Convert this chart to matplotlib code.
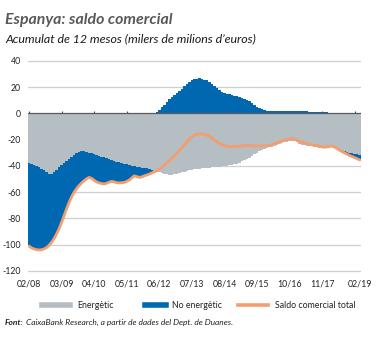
import matplotlib
matplotlib.use("Agg")
import matplotlib.pyplot as plt
from matplotlib.lines import Line2D
import numpy as np

# 12-month cumulative trade balance, monthly from Feb 2008 to Feb 2019 (EUR bn)
energy = [
    -37.5, -38.5, -39.5, -40.3, -41.0, -42.2, -43.5, -44.8, -46.0, -46.3,
    -45.0, -43.2, -41.0, -39.5, -38.0, -36.5, -35.0, -33.5, -31.8, -30.5,
    -29.6, -29.0, -28.7, -29.2, -30.0, -30.6, -31.2, -31.8, -32.5, -33.0,
    -33.6, -34.3, -35.0, -35.6, -36.2, -36.8, -37.3, -37.8, -38.3, -38.8,
    -39.3, -39.8, -40.3, -40.8, -41.2, -41.5, -41.8, -42.0, -42.4, -43.0,
    -43.6, -44.3, -45.0, -45.6, -46.0, -46.5, -47.0, -47.0, -46.5, -46.0,
    -45.5, -45.0, -44.5, -44.0, -43.5, -43.0, -42.7, -42.4, -42.2, -42.0,
    -41.8, -41.6, -41.4, -41.2, -41.0, -40.8, -40.5, -40.3, -40.1, -39.9,
    -39.6, -39.2, -38.8, -38.4, -37.6, -36.6, -35.6, -34.8, -33.8, -32.6,
    -31.2, -30.0, -28.8, -27.8, -27.0, -26.4, -25.9, -25.3, -24.6, -24.0,
    -23.2, -22.6, -22.0, -21.6, -21.2, -20.8, -21.2, -22.2, -23.2, -23.8,
    -24.2, -24.6, -24.8, -25.1, -25.4, -25.7, -26.1, -26.5, -26.6, -26.3,
    -25.8, -25.5, -26.0, -26.8, -27.6, -28.2, -28.8, -29.4, -30.0, -30.4,
    -30.8, -31.2, -31.5,
]
non_energy = [
    -63.5, -64.0, -63.7, -63.5, -63.0, -61.6, -59.7, -57.4, -54.4, -51.9,
    -50.3, -48.6, -46.8, -43.5, -39.7, -36.1, -32.7, -30.0, -28.2, -26.8,
    -25.4, -24.0, -22.6, -20.6, -18.8, -18.9, -19.8, -20.5, -20.5, -20.5,
    -20.2, -18.9, -17.4, -16.2, -16.0, -16.0, -15.7, -15.0, -14.3, -13.0,
    -11.5, -9.4, -7.3, -7.4, -7.6, -6.9, -5.8, -5.0, -3.9, -2.4,
    -1.0, 0.7, 2.5, 4.6, 6.5, 8.7, 10.8, 12.6, 14.1, 15.4,
    17.1, 18.8, 20.5, 22.4, 23.9, 25.2, 26.1, 26.4, 26.5, 26.1,
    25.6, 25.0, 24.0, 22.6, 20.8, 19.0, 17.5, 16.4, 15.5, 14.9,
    14.4, 13.9, 13.4, 13.1, 12.6, 11.8, 11.1, 10.4, 9.3, 8.0,
    6.4, 5.1, 3.9, 3.0, 2.3, 1.8, 1.5, 1.5, 1.6, 1.7,
    1.6, 1.6, 1.6, 1.6, 1.6, 1.6, 1.6, 1.6, 1.6, 1.6,
    1.5, 1.4, 1.2, 1.1, 1.0, 0.9, 0.9, 0.9, 0.8, 0.7,
    0.6, 0.5, 0.2, -0.2, -0.6, -1.0, -1.4, -1.8, -2.2, -2.6,
    -3.0, -3.4, -4.0,
]
x_labels = ["02/08", "03/09", "04/10", "05/11", "06/12", "07/13",
            "08/14", "09/15", "10/16", "11/17", "02/19"]
label_months = [0, 13, 26, 39, 52, 65, 78, 91, 104, 117, 132]
tick_months = [0, 13, 26, 39, 52, 65, 78, 91, 104, 117, 130]
y_ticks = [40, 20, 0, -20, -40, -60, -80, -100, -120]
legend_labels = ["Energètic", "No energètic", "Saldo comercial total"]

GRAY = "#b4bec3"
BLUE = "#0067b1"
ORANGE = "#f49d6e"
FONT = "Lato"

plt.rcParams["font.family"] = [FONT, "DejaVu Sans"]

W, H = 378, 338
fig = plt.figure(figsize=(W / 100, H / 100), dpi=100)
fig.patch.set_facecolor("white")


def fx(px):
    return px / W


def fy(py):
    return 1 - py / H


e = np.array(energy)
n = np.array(non_energy)
total = e + n
months = np.arange(len(e))

y_lo, y_hi = -122, 42
ax_top, ax_bot = 58.1, 273.6
ax_left, ax_right = 27.8, 361.0
ax = fig.add_axes([fx(ax_left), fy(ax_bot), fx(ax_right) - fx(ax_left),
                   (ax_bot - ax_top) / H])
ax.set_xlim(-0.5, len(e) - 0.5)
ax.set_ylim(y_lo, y_hi)

for v in y_ticks:
    if v != 0:
        ax.axhline(v, color="#cfcfcf", lw=0.9, zorder=0)

# monthly bars; plain pixel edges so adjacent bars merge into a solid area
ax.bar(months, e, width=1.0, color=GRAY, linewidth=0, antialiased=False,
       zorder=2)
n_bottom = np.where(n < 0, e, 0)
ax.bar(months, n, bottom=n_bottom, width=1.0, color=BLUE, linewidth=0,
       antialiased=False, zorder=2)

ax.axhline(0, color="#5a5a5a", lw=0.9, zorder=3)
ax.vlines(tick_months, 0, 2.0, color="#5a5a5a", lw=0.9, zorder=3)

ax.plot(months, total, color=ORANGE, lw=2.0, zorder=4,
        solid_capstyle="round", solid_joinstyle="round")

for s in ax.spines.values():
    s.set_visible(False)
ax.set_yticks(y_ticks)
ax.set_yticklabels([str(v) for v in y_ticks])
ax.set_xticks(label_months)
ax.set_xticklabels(x_labels)
ax.tick_params(axis="both", length=0, labelsize=6.3, colors="#222222")
ax.tick_params(axis="y", pad=5)
ax.tick_params(axis="x", pad=4.5)

# titles
fig.text(fx(5), fy(24), "Espanya: saldo comercial", fontsize=11.4,
         fontweight="bold", fontstyle="italic", color="#58595b", va="baseline")
fig.text(fx(5), fy(42), "Acumulat de 12 mesos (milers de milions d\u2019euros)",
         fontsize=8.9, fontstyle="italic", color="#1a1a1a", va="baseline")

# legend
leg_y = fy(305)
items = [
    (42, 70, 77, GRAY, 4.0),
    (145, 166, 172, BLUE, 4.0),
    (238, 268, 275, ORANGE, 2.6),
]
for (x0, x1, xt, col, lw), lab in zip(items, legend_labels):
    fig.add_artist(Line2D([fx(x0), fx(x1)], [leg_y, leg_y], color=col, lw=lw,
                          transform=fig.transFigure))
    fig.text(fx(xt), leg_y, lab, fontsize=6.3, color="#222222", va="center")

# source
t1 = fig.text(fx(5), fy(325), "Font:", fontsize=6.0, fontweight="bold",
              fontstyle="italic", color="#222222", va="baseline")
fig.canvas.draw()
bb = t1.get_window_extent()
fig.text(bb.x1 / W + fx(2), fy(325),
         "CaixaBank Research, a partir de dades del Dept. de Duanes.",
         fontsize=6.0, fontstyle="italic", color="#222222", va="baseline")

fig.savefig("out.png", dpi=100)
